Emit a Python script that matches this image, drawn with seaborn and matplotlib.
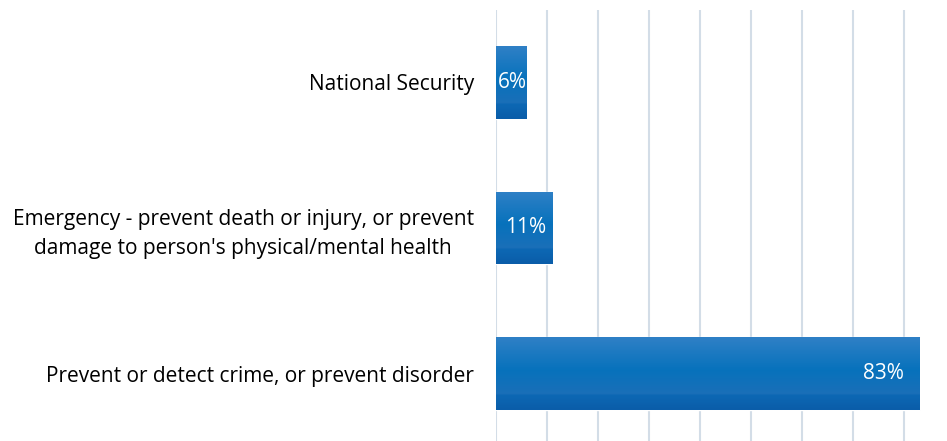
import numpy as np
import pandas as pd
import seaborn as sns
from matplotlib import pyplot as plt
from matplotlib.colors import LinearSegmentedColormap

categories = ["National Security",
              "Emergency - prevent death or injury, or prevent\ndamage to person's physical/mental health",
              "Prevent or detect crime, or prevent disorder"]
values = [6, 11, 83]
value_labels = ["6%", "11%", "83%"]

df = pd.DataFrame({"reason": categories, "pct": values})

sns.set_style("white")
plt.rcParams['font.family'] = ['Open Sans', 'DejaVu Sans']

fig = plt.figure(figsize=(9.47, 4.41), dpi=100)
ax = fig.add_axes([0.5238, -0.012, 0.4527, 0.990])

sns.barplot(data=df, x="pct", y="reason", orient="h", color="#0b6fba",
            width=0.5, ax=ax, zorder=3)

# gradient fill like the office chart style (0 = bottom of bar)
grad = LinearSegmentedColormap.from_list(
    "bar", [(0, "#0a5da9"), (0.2, "#0d68b4"), (0.22, "#1a6fb8"),
            (0.55, "#0772bc"), (1, "#2f80c6")])
for p in ax.patches:
    x0, y0 = p.get_x(), p.get_y()
    w, h = p.get_width(), p.get_height()
    im = ax.imshow(np.linspace(1, 0, 100).reshape(-1, 1), cmap=grad,
                   extent=[x0, x0 + w, y0 + h, y0], aspect="auto",
                   origin="upper", zorder=4)
    im.set_clip_path(p)

ax.set_xlim(0, 84)
ax.set_ylim(2.5, -0.5)
ax.set_xticks(np.arange(0, 81, 10))
ax.set_xticklabels([])
ax.tick_params(axis="x", length=0)
ax.tick_params(axis="y", length=0, pad=16, labelsize=15, labelcolor="black")
for lbl in ax.get_yticklabels():
    lbl.set_multialignment("center")
    lbl.set_linespacing(1.45)
ax.grid(axis="x", color="#d3dde7", lw=1.5, zorder=0)
for s in ax.spines.values():
    s.set_visible(False)
ax.set_xlabel("")
ax.set_ylabel("")

# value labels near the inside end of each bar
pads = [0, 6, 16]
for i, (v, t) in enumerate(zip(values, value_labels)):
    ax.annotate(t, (v, i), xytext=(-pads[i] * 0.72, 0), textcoords="offset points",
                ha="right", va="center", color="white", fontsize=15, zorder=5)

fig.savefig("out.png", dpi=100)
